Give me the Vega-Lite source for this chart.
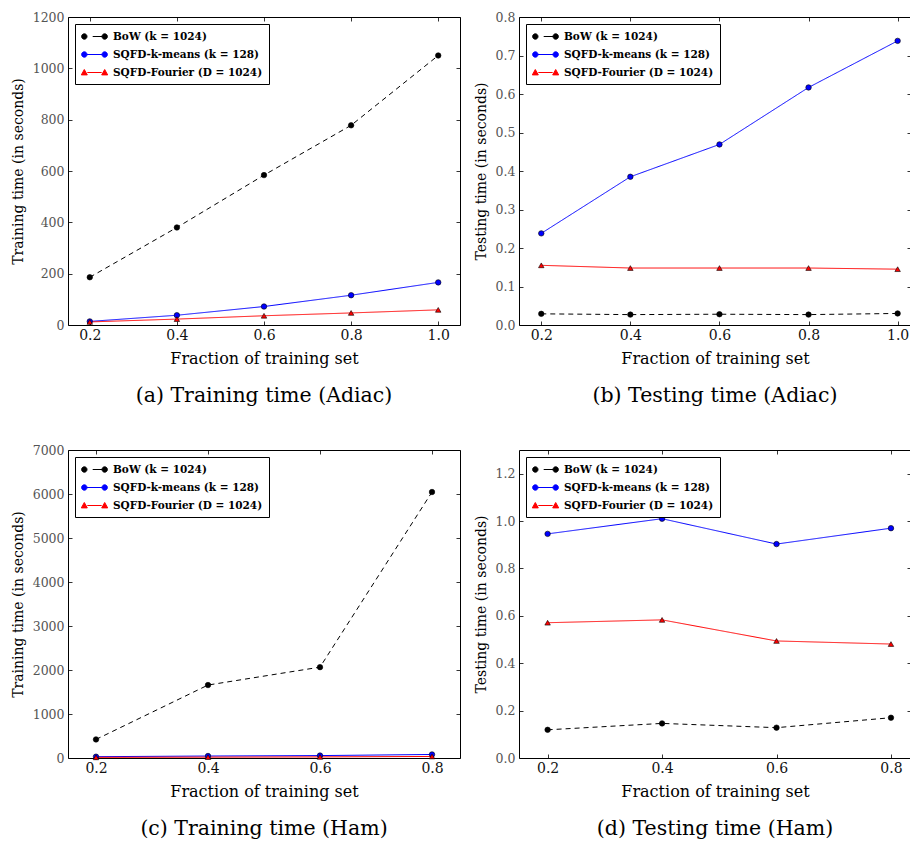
{
  "$schema": "https://vega.github.io/schema/vega-lite/v6.json",
  "padding": {"left": 10, "top": 10, "right": 0, "bottom": 0},
  "background": "white",
  "columns": 2,
  "spacing": {"row": 36, "column": 12},
  "resolve": {"scale": {"x": "independent", "y": "independent"}, "legend": {"color": "independent"}},
  "config": {
    "view": {"stroke": "black", "strokeWidth": 1},
    "axis": {"grid": false, "domain": false, "tickColor": "black", "tickSize": -4, "tickWidth": 0.8, "labelFont": "DejaVu Serif", "titleFont": "DejaVu Serif", "titleFontWeight": "normal", "titleColor": "black"},
    "axisX": {"labelFontSize": 14, "labelColor": "#111", "labelPadding": 7, "titlePadding": 8, "titleFontSize": 16},
    "axisY": {"labelFontSize": 12.5, "labelColor": "#555", "labelPadding": 8, "titlePadding": 7, "titleFontSize": 14},
    "legend": {"orient": "top-left", "offset": 7, "strokeColor": "black", "fillColor": "white", "padding": 6, "cornerRadius": 0, "labelFont": "DejaVu Serif", "labelFontSize": 10.5, "labelFontWeight": "bold", "labelColor": "black", "symbolSize": 144, "symbolOffset": 7, "labelOffset": 12, "rowPadding": 6},
    "title": {"font": "DejaVu Serif", "fontSize": 20.5, "fontWeight": "normal", "color": "black", "orient": "bottom", "offset": 20, "anchor": "middle"}
  },
  "datasets": {
    "trainAdiac": [
      {"fraction": 0.2, "method": "BoW (k = 1024)", "time": 186},
      {"fraction": 0.4, "method": "BoW (k = 1024)", "time": 380},
      {"fraction": 0.6, "method": "BoW (k = 1024)", "time": 584},
      {"fraction": 0.8, "method": "BoW (k = 1024)", "time": 778},
      {"fraction": 1.0, "method": "BoW (k = 1024)", "time": 1050},
      {"fraction": 0.2, "method": "SQFD-k-means (k = 128)", "time": 14},
      {"fraction": 0.4, "method": "SQFD-k-means (k = 128)", "time": 38},
      {"fraction": 0.6, "method": "SQFD-k-means (k = 128)", "time": 72},
      {"fraction": 0.8, "method": "SQFD-k-means (k = 128)", "time": 116},
      {"fraction": 1.0, "method": "SQFD-k-means (k = 128)", "time": 166},
      {"fraction": 0.2, "method": "SQFD-Fourier (D = 1024)", "time": 12},
      {"fraction": 0.4, "method": "SQFD-Fourier (D = 1024)", "time": 23},
      {"fraction": 0.6, "method": "SQFD-Fourier (D = 1024)", "time": 36},
      {"fraction": 0.8, "method": "SQFD-Fourier (D = 1024)", "time": 47},
      {"fraction": 1.0, "method": "SQFD-Fourier (D = 1024)", "time": 59}
    ],
    "testAdiac": [
      {"fraction": 0.2, "method": "BoW (k = 1024)", "time": 0.029},
      {"fraction": 0.4, "method": "BoW (k = 1024)", "time": 0.027},
      {"fraction": 0.6, "method": "BoW (k = 1024)", "time": 0.028},
      {"fraction": 0.8, "method": "BoW (k = 1024)", "time": 0.027},
      {"fraction": 1.0, "method": "BoW (k = 1024)", "time": 0.030},
      {"fraction": 0.2, "method": "SQFD-k-means (k = 128)", "time": 0.238},
      {"fraction": 0.4, "method": "SQFD-k-means (k = 128)", "time": 0.385},
      {"fraction": 0.6, "method": "SQFD-k-means (k = 128)", "time": 0.469},
      {"fraction": 0.8, "method": "SQFD-k-means (k = 128)", "time": 0.617},
      {"fraction": 1.0, "method": "SQFD-k-means (k = 128)", "time": 0.738},
      {"fraction": 0.2, "method": "SQFD-Fourier (D = 1024)", "time": 0.155},
      {"fraction": 0.4, "method": "SQFD-Fourier (D = 1024)", "time": 0.148},
      {"fraction": 0.6, "method": "SQFD-Fourier (D = 1024)", "time": 0.148},
      {"fraction": 0.8, "method": "SQFD-Fourier (D = 1024)", "time": 0.148},
      {"fraction": 1.0, "method": "SQFD-Fourier (D = 1024)", "time": 0.145}
    ],
    "trainHam": [
      {"fraction": 0.2, "method": "BoW (k = 1024)", "time": 422},
      {"fraction": 0.4, "method": "BoW (k = 1024)", "time": 1658},
      {"fraction": 0.6, "method": "BoW (k = 1024)", "time": 2065},
      {"fraction": 0.8, "method": "BoW (k = 1024)", "time": 6045},
      {"fraction": 0.2, "method": "SQFD-k-means (k = 128)", "time": 30},
      {"fraction": 0.4, "method": "SQFD-k-means (k = 128)", "time": 45},
      {"fraction": 0.6, "method": "SQFD-k-means (k = 128)", "time": 55},
      {"fraction": 0.8, "method": "SQFD-k-means (k = 128)", "time": 80},
      {"fraction": 0.2, "method": "SQFD-Fourier (D = 1024)", "time": 15},
      {"fraction": 0.4, "method": "SQFD-Fourier (D = 1024)", "time": 20},
      {"fraction": 0.6, "method": "SQFD-Fourier (D = 1024)", "time": 25},
      {"fraction": 0.8, "method": "SQFD-Fourier (D = 1024)", "time": 35}
    ],
    "testHam": [
      {"fraction": 0.2, "method": "BoW (k = 1024)", "time": 0.119},
      {"fraction": 0.4, "method": "BoW (k = 1024)", "time": 0.146},
      {"fraction": 0.6, "method": "BoW (k = 1024)", "time": 0.128},
      {"fraction": 0.8, "method": "BoW (k = 1024)", "time": 0.170},
      {"fraction": 0.2, "method": "SQFD-k-means (k = 128)", "time": 0.946},
      {"fraction": 0.4, "method": "SQFD-k-means (k = 128)", "time": 1.010},
      {"fraction": 0.6, "method": "SQFD-k-means (k = 128)", "time": 0.903},
      {"fraction": 0.8, "method": "SQFD-k-means (k = 128)", "time": 0.970},
      {"fraction": 0.2, "method": "SQFD-Fourier (D = 1024)", "time": 0.571},
      {"fraction": 0.4, "method": "SQFD-Fourier (D = 1024)", "time": 0.583},
      {"fraction": 0.6, "method": "SQFD-Fourier (D = 1024)", "time": 0.494},
      {"fraction": 0.8, "method": "SQFD-Fourier (D = 1024)", "time": 0.481}
    ]
  },
  "concat": [
    {
      "width": 392, "height": 308,
      "title": {"text": "(a) Training time (Adiac)"},
      "data": {"name": "trainAdiac"},
      "encoding": {
        "color": {"field": "method", "type": "nominal", "scale": {"domain": ["BoW (k = 1024)", "SQFD-k-means (k = 128)", "SQFD-Fourier (D = 1024)"], "range": ["black", "blue", "red"]},
          "legend": {"title": null, "encode": {"symbols": {"update": {
            "shape": {"signal": "datum.value === 'BoW (k = 1024)' ? 'M-2.15,0A0.45,0.45,0,1,0,-1.25,0A0.45,0.45,0,1,0,-2.15,0ZM1.25,0A0.45,0.45,0,1,0,2.15,0A0.45,0.45,0,1,0,1.25,0ZM-0.3,0L1.25,0' : datum.value === 'SQFD-k-means (k = 128)' ? 'M-2.15,0A0.45,0.45,0,1,0,-1.25,0A0.45,0.45,0,1,0,-2.15,0ZM1.25,0A0.45,0.45,0,1,0,2.15,0A0.45,0.45,0,1,0,1.25,0ZM-1.25,0L1.25,0' : 'M-1.7,-0.5L-1.2,0.4L-2.2,0.4ZM1.7,-0.5L2.2,0.4L1.2,0.4ZM-1.2,0L1.2,0'"},
            "fill": {"signal": "datum.value === 'BoW (k = 1024)' ? 'black' : datum.value === 'SQFD-k-means (k = 128)' ? 'blue' : 'red'"},
            "stroke": {"signal": "datum.value === 'BoW (k = 1024)' ? 'black' : datum.value === 'SQFD-k-means (k = 128)' ? 'blue' : 'red'"},
            "strokeWidth": {"value": 1},
            "opacity": {"value": 1}
          }}}}
        }
      },
      "layer": [
        {
          "mark": {"type": "line", "strokeWidth": 1},
          "encoding": {
            "x": {"field": "fraction", "type": "quantitative", "scale": {"domain": [0.15, 1.05], "nice": false, "zero": false}, "axis": {"values": [0.2, 0.4, 0.6, 0.8, 1.0], "format": ".1f", "title": "Fraction of training set"}},
            "y": {"field": "time", "type": "quantitative", "scale": {"domain": [0, 1200], "nice": false}, "axis": {"values": [0, 200, 400, 600, 800, 1000, 1200], "format": "d", "title": "Training time (in seconds)"}},
            "strokeDash": {"field": "method", "type": "nominal", "scale": {"domain": ["BoW (k = 1024)", "SQFD-k-means (k = 128)", "SQFD-Fourier (D = 1024)"], "range": [[5, 4], [1, 0], [1, 0]]}, "legend": null}
          }
        },
        {
          "mark": {"type": "point", "filled": true, "size": 30, "stroke": "black", "strokeWidth": 0.6, "opacity": 1},
          "encoding": {
            "x": {"field": "fraction", "type": "quantitative", "axis": {"orient": "top", "labels": false, "title": null, "values": [0.2, 0.4, 0.6, 0.8, 1.0]}},
            "y": {"field": "time", "type": "quantitative", "axis": {"orient": "right", "labels": false, "title": null, "values": [0, 200, 400, 600, 800, 1000, 1200]}},
            "shape": {"field": "method", "type": "nominal", "scale": {"domain": ["BoW (k = 1024)", "SQFD-k-means (k = 128)", "SQFD-Fourier (D = 1024)"], "range": ["circle", "circle", "triangle-up"]}, "legend": null}
          }
        }
      ],
      "resolve": {"axis": {"x": "independent", "y": "independent"}}
    },
    {
      "width": 392, "height": 308,
      "title": {"text": "(b) Testing time (Adiac)"},
      "data": {"name": "testAdiac"},
      "encoding": {
        "color": {"field": "method", "type": "nominal", "scale": {"domain": ["BoW (k = 1024)", "SQFD-k-means (k = 128)", "SQFD-Fourier (D = 1024)"], "range": ["black", "blue", "red"]},
          "legend": {"title": null, "encode": {"symbols": {"update": {
            "shape": {"signal": "datum.value === 'BoW (k = 1024)' ? 'M-2.15,0A0.45,0.45,0,1,0,-1.25,0A0.45,0.45,0,1,0,-2.15,0ZM1.25,0A0.45,0.45,0,1,0,2.15,0A0.45,0.45,0,1,0,1.25,0ZM-0.3,0L1.25,0' : datum.value === 'SQFD-k-means (k = 128)' ? 'M-2.15,0A0.45,0.45,0,1,0,-1.25,0A0.45,0.45,0,1,0,-2.15,0ZM1.25,0A0.45,0.45,0,1,0,2.15,0A0.45,0.45,0,1,0,1.25,0ZM-1.25,0L1.25,0' : 'M-1.7,-0.5L-1.2,0.4L-2.2,0.4ZM1.7,-0.5L2.2,0.4L1.2,0.4ZM-1.2,0L1.2,0'"},
            "fill": {"signal": "datum.value === 'BoW (k = 1024)' ? 'black' : datum.value === 'SQFD-k-means (k = 128)' ? 'blue' : 'red'"},
            "stroke": {"signal": "datum.value === 'BoW (k = 1024)' ? 'black' : datum.value === 'SQFD-k-means (k = 128)' ? 'blue' : 'red'"},
            "strokeWidth": {"value": 1},
            "opacity": {"value": 1}
          }}}}
        }
      },
      "layer": [
        {
          "mark": {"type": "line", "strokeWidth": 1},
          "encoding": {
            "x": {"field": "fraction", "type": "quantitative", "scale": {"domain": [0.15, 1.03], "nice": false, "zero": false}, "axis": {"values": [0.2, 0.4, 0.6, 0.8, 1.0], "format": ".1f", "title": "Fraction of training set"}},
            "y": {"field": "time", "type": "quantitative", "scale": {"domain": [0, 0.8], "nice": false}, "axis": {"values": [0, 0.1, 0.2, 0.3, 0.4, 0.5, 0.6, 0.7, 0.8], "format": ".1f", "title": "Testing time (in seconds)"}},
            "strokeDash": {"field": "method", "type": "nominal", "scale": {"domain": ["BoW (k = 1024)", "SQFD-k-means (k = 128)", "SQFD-Fourier (D = 1024)"], "range": [[5, 4], [1, 0], [1, 0]]}, "legend": null}
          }
        },
        {
          "mark": {"type": "point", "filled": true, "size": 30, "stroke": "black", "strokeWidth": 0.6, "opacity": 1},
          "encoding": {
            "x": {"field": "fraction", "type": "quantitative", "axis": {"orient": "top", "labels": false, "title": null, "values": [0.2, 0.4, 0.6, 0.8, 1.0]}},
            "y": {"field": "time", "type": "quantitative", "axis": {"orient": "right", "labels": false, "title": null, "values": [0, 0.1, 0.2, 0.3, 0.4, 0.5, 0.6, 0.7, 0.8]}},
            "shape": {"field": "method", "type": "nominal", "scale": {"domain": ["BoW (k = 1024)", "SQFD-k-means (k = 128)", "SQFD-Fourier (D = 1024)"], "range": ["circle", "circle", "triangle-up"]}, "legend": null}
          }
        }
      ],
      "resolve": {"axis": {"x": "independent", "y": "independent"}}
    },
    {
      "width": 392, "height": 308,
      "title": {"text": "(c) Training time (Ham)"},
      "data": {"name": "trainHam"},
      "encoding": {
        "color": {"field": "method", "type": "nominal", "scale": {"domain": ["BoW (k = 1024)", "SQFD-k-means (k = 128)", "SQFD-Fourier (D = 1024)"], "range": ["black", "blue", "red"]},
          "legend": {"title": null, "encode": {"symbols": {"update": {
            "shape": {"signal": "datum.value === 'BoW (k = 1024)' ? 'M-2.15,0A0.45,0.45,0,1,0,-1.25,0A0.45,0.45,0,1,0,-2.15,0ZM1.25,0A0.45,0.45,0,1,0,2.15,0A0.45,0.45,0,1,0,1.25,0ZM-0.3,0L1.25,0' : datum.value === 'SQFD-k-means (k = 128)' ? 'M-2.15,0A0.45,0.45,0,1,0,-1.25,0A0.45,0.45,0,1,0,-2.15,0ZM1.25,0A0.45,0.45,0,1,0,2.15,0A0.45,0.45,0,1,0,1.25,0ZM-1.25,0L1.25,0' : 'M-1.7,-0.5L-1.2,0.4L-2.2,0.4ZM1.7,-0.5L2.2,0.4L1.2,0.4ZM-1.2,0L1.2,0'"},
            "fill": {"signal": "datum.value === 'BoW (k = 1024)' ? 'black' : datum.value === 'SQFD-k-means (k = 128)' ? 'blue' : 'red'"},
            "stroke": {"signal": "datum.value === 'BoW (k = 1024)' ? 'black' : datum.value === 'SQFD-k-means (k = 128)' ? 'blue' : 'red'"},
            "strokeWidth": {"value": 1},
            "opacity": {"value": 1}
          }}}}
        }
      },
      "layer": [
        {
          "mark": {"type": "line", "strokeWidth": 1},
          "encoding": {
            "x": {"field": "fraction", "type": "quantitative", "scale": {"domain": [0.15, 0.85], "nice": false, "zero": false}, "axis": {"values": [0.2, 0.4, 0.6, 0.8], "format": ".1f", "title": "Fraction of training set"}},
            "y": {"field": "time", "type": "quantitative", "scale": {"domain": [0, 7000], "nice": false}, "axis": {"values": [0, 1000, 2000, 3000, 4000, 5000, 6000, 7000], "format": "d", "title": "Training time (in seconds)"}},
            "strokeDash": {"field": "method", "type": "nominal", "scale": {"domain": ["BoW (k = 1024)", "SQFD-k-means (k = 128)", "SQFD-Fourier (D = 1024)"], "range": [[5, 4], [1, 0], [1, 0]]}, "legend": null}
          }
        },
        {
          "mark": {"type": "point", "filled": true, "size": 30, "stroke": "black", "strokeWidth": 0.6, "opacity": 1},
          "encoding": {
            "x": {"field": "fraction", "type": "quantitative", "axis": {"orient": "top", "labels": false, "title": null, "values": [0.2, 0.4, 0.6, 0.8]}},
            "y": {"field": "time", "type": "quantitative", "axis": {"orient": "right", "labels": false, "title": null, "values": [0, 1000, 2000, 3000, 4000, 5000, 6000, 7000]}},
            "shape": {"field": "method", "type": "nominal", "scale": {"domain": ["BoW (k = 1024)", "SQFD-k-means (k = 128)", "SQFD-Fourier (D = 1024)"], "range": ["circle", "circle", "triangle-up"]}, "legend": null}
          }
        }
      ],
      "resolve": {"axis": {"x": "independent", "y": "independent"}}
    },
    {
      "width": 392, "height": 308,
      "title": {"text": "(d) Testing time (Ham)"},
      "data": {"name": "testHam"},
      "encoding": {
        "color": {"field": "method", "type": "nominal", "scale": {"domain": ["BoW (k = 1024)", "SQFD-k-means (k = 128)", "SQFD-Fourier (D = 1024)"], "range": ["black", "blue", "red"]},
          "legend": {"title": null, "encode": {"symbols": {"update": {
            "shape": {"signal": "datum.value === 'BoW (k = 1024)' ? 'M-2.15,0A0.45,0.45,0,1,0,-1.25,0A0.45,0.45,0,1,0,-2.15,0ZM1.25,0A0.45,0.45,0,1,0,2.15,0A0.45,0.45,0,1,0,1.25,0ZM-0.3,0L1.25,0' : datum.value === 'SQFD-k-means (k = 128)' ? 'M-2.15,0A0.45,0.45,0,1,0,-1.25,0A0.45,0.45,0,1,0,-2.15,0ZM1.25,0A0.45,0.45,0,1,0,2.15,0A0.45,0.45,0,1,0,1.25,0ZM-1.25,0L1.25,0' : 'M-1.7,-0.5L-1.2,0.4L-2.2,0.4ZM1.7,-0.5L2.2,0.4L1.2,0.4ZM-1.2,0L1.2,0'"},
            "fill": {"signal": "datum.value === 'BoW (k = 1024)' ? 'black' : datum.value === 'SQFD-k-means (k = 128)' ? 'blue' : 'red'"},
            "stroke": {"signal": "datum.value === 'BoW (k = 1024)' ? 'black' : datum.value === 'SQFD-k-means (k = 128)' ? 'blue' : 'red'"},
            "strokeWidth": {"value": 1},
            "opacity": {"value": 1}
          }}}}
        }
      },
      "layer": [
        {
          "mark": {"type": "line", "strokeWidth": 1},
          "encoding": {
            "x": {"field": "fraction", "type": "quantitative", "scale": {"domain": [0.15, 0.835], "nice": false, "zero": false}, "axis": {"values": [0.2, 0.4, 0.6, 0.8], "format": ".1f", "title": "Fraction of training set"}},
            "y": {"field": "time", "type": "quantitative", "scale": {"domain": [0, 1.3], "nice": false}, "axis": {"values": [0, 0.2, 0.4, 0.6, 0.8, 1.0, 1.2], "format": ".1f", "title": "Testing time (in seconds)"}},
            "strokeDash": {"field": "method", "type": "nominal", "scale": {"domain": ["BoW (k = 1024)", "SQFD-k-means (k = 128)", "SQFD-Fourier (D = 1024)"], "range": [[5, 4], [1, 0], [1, 0]]}, "legend": null}
          }
        },
        {
          "mark": {"type": "point", "filled": true, "size": 30, "stroke": "black", "strokeWidth": 0.6, "opacity": 1},
          "encoding": {
            "x": {"field": "fraction", "type": "quantitative", "axis": {"orient": "top", "labels": false, "title": null, "values": [0.2, 0.4, 0.6, 0.8]}},
            "y": {"field": "time", "type": "quantitative", "axis": {"orient": "right", "labels": false, "title": null, "values": [0, 0.2, 0.4, 0.6, 0.8, 1.0, 1.2]}},
            "shape": {"field": "method", "type": "nominal", "scale": {"domain": ["BoW (k = 1024)", "SQFD-k-means (k = 128)", "SQFD-Fourier (D = 1024)"], "range": ["circle", "circle", "triangle-up"]}, "legend": null}
          }
        }
      ],
      "resolve": {"axis": {"x": "independent", "y": "independent"}}
    }
  ]
}
